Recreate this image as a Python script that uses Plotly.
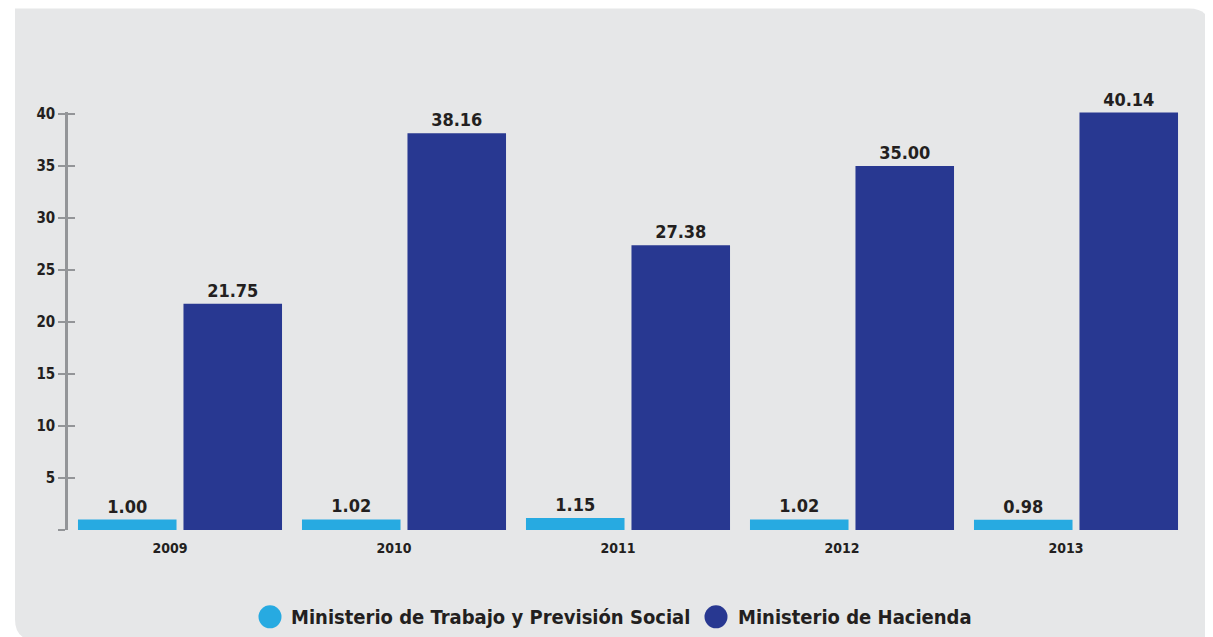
import plotly.graph_objects as go

years = ["2009", "2010", "2011", "2012", "2013"]
trabajo = [1.00, 1.02, 1.15, 1.02, 0.98]
hacienda = [21.75, 38.16, 27.38, 35.00, 40.14]
series_names = ["Ministerio de Trabajo y Previsión Social", "Ministerio de Hacienda"]
colors = ["#27AAE1", "#283891"]
ytick_vals = [0, 5, 10, 15, 20, 25, 30, 35, 40]
ytick_text = ["", "5", "10", "15", "20", "25", "30", "35", "40"]

# the page adds an 8px body margin; work in screen pixels and convert
OFF = 8
W, H = 1213 - OFF, 637 - OFF
# plot area in screen pixels
SX0, SX1, SY0, SY1 = 68, 1188, 111.6, 529.7
ML = SX0 - OFF
MR = W - (SX1 - OFF)
MT = SY0 - OFF
MB = H - (SY1 - OFF)
PW = SX1 - SX0
PH = SY1 - SY0
FONT = "Liberation Sans Narrow, DejaVu Sans Condensed, Arial Narrow, sans-serif"
TXT = "#231F20"


def px(x):
    return (x - SX0) / PW


def py(y):
    return (SY1 - y) / PH


fig = go.Figure()
for name, vals, col in zip(series_names, [trabajo, hacienda], colors):
    fig.add_trace(go.Bar(
        x=years, y=vals, name=name, marker=dict(color=col, line=dict(width=0)),
        text=[f"{v:.2f}" for v in vals], textposition="outside",
        textfont=dict(family=FONT, size=18, color=TXT, weight="bold"),
        cliponaxis=False, showlegend=False, hoverinfo="skip",
    ))

# invisible trace for the overlay axis (inner half of the ticks)
fig.add_trace(go.Scatter(x=[years[0]], y=[0], yaxis="y2", mode="markers",
                         marker=dict(opacity=0), showlegend=False, hoverinfo="skip"))

shapes = []
# rounded panel background
x0, x1, y0, y1, r = 15, 1210, 8, 640, 21
panel = (f"M {px(x0)},{py(y0)} L {px(x1 - r)},{py(y0)} "
         f"Q {px(x1)},{py(y0)} {px(x1)},{py(y0 + r)} "
         f"L {px(x1)},{py(y1)} L {px(x0 + r)},{py(y1)} "
         f"Q {px(x0)},{py(y1)} {px(x0)},{py(y1 - r)} Z")
shapes.append(dict(type="path", path=panel, xref="paper", yref="paper",
                   fillcolor="#E6E7E8", line=dict(width=0), layer="below"))

annotations = []
legend_items = [(270, 289), (716, 736)]
for (cx, tx), name, col in zip(legend_items, series_names, colors):
    shapes.append(dict(type="circle", xref="paper", yref="paper",
                       xsizemode="pixel", ysizemode="pixel",
                       xanchor=px(cx), yanchor=py(616.5),
                       x0=-11.5, x1=11.5, y0=-11.5, y1=11.5,
                       fillcolor=col, line=dict(width=0), layer="above"))
    annotations.append(dict(text=name, x=px(tx), y=py(616.5), xref="paper", yref="paper",
                            xanchor="left", yanchor="middle", showarrow=False,
                            font=dict(family=FONT, size=20, color=TXT, weight="bold")))

fig.update_layout(
    width=W, height=H,
    margin=dict(l=ML, r=MR, t=MT, b=MB, pad=0),
    paper_bgcolor="white", plot_bgcolor="rgba(0,0,0,0)",
    barmode="group", bargap=0.058, bargroupgap=0.066,
    shapes=shapes, annotations=annotations,
    xaxis=dict(type="category", showline=False, showgrid=False, zeroline=False,
               ticks="", ticklabelshift=-10, ticklabelstandoff=8,
               tickfont=dict(family=FONT, size=14, color=TXT, weight="bold")),
    yaxis=dict(range=[0, 40.2], tickmode="array", tickvals=ytick_vals, ticktext=ytick_text,
               showgrid=False, zeroline=False, showline=True, linecolor="#939598", linewidth=2.5,
               ticks="outside", ticklen=7, tickwidth=1.5, tickcolor="#939598",
               ticklabelstandoff=0,
               tickfont=dict(family=FONT, size=15, color=TXT, weight="bold")),
    yaxis2=dict(range=[0, 40.2], overlaying="y", side="left", tickmode="array",
                tickvals=ytick_vals, showticklabels=False, showgrid=False, zeroline=False,
                showline=False, ticks="inside", ticklen=7, tickwidth=1.5, tickcolor="#939598"),
)

fig.write_html("out.html")
